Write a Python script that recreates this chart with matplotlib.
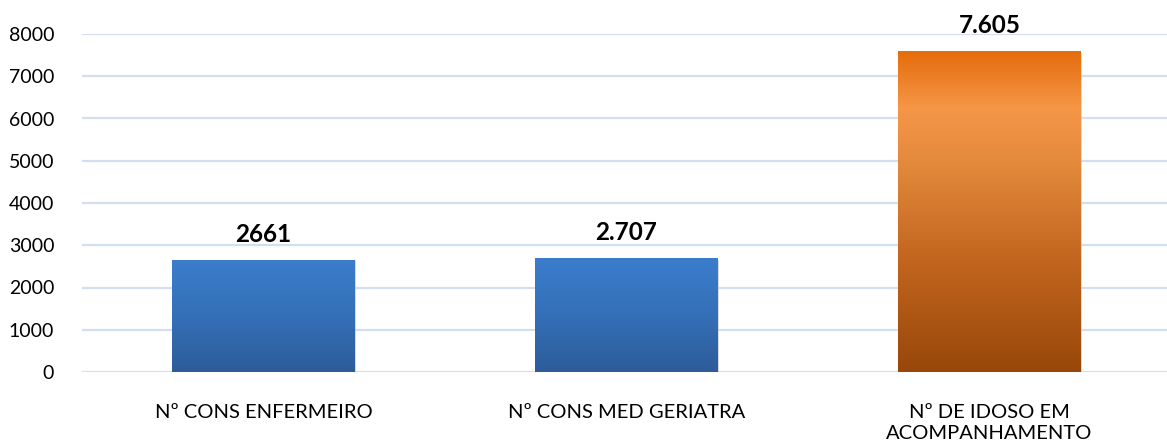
import numpy as np
import matplotlib
matplotlib.use("Agg")
import matplotlib.pyplot as plt
from matplotlib.colors import LinearSegmentedColormap

categories = ["Nº CONS ENFERMEIRO", "Nº CONS MED GERIATRA", "Nº DE IDOSO EM\nACOMPANHAMENTO"]
values = [2661, 2707, 7605]
value_labels = ["2661", "2.707", "7.605"]
yticks = [0, 1000, 2000, 3000, 4000, 5000, 6000, 7000, 8000]

plt.rcParams['font.family'] = ['Lato', 'DejaVu Sans']

fig = plt.figure(figsize=(11.67, 4.42), dpi=100)
W, H = 1167, 442
left_px, right_px = 82, 1171
bottom_px, top_px = 70, 408
ax = fig.add_axes([left_px / W, bottom_px / H, (right_px - left_px) / W, (top_px - bottom_px) / H])
ax.set_xlim(-0.5, 2.5)
ax.set_ylim(0, 8000)

for t in yticks:
    ax.axhline(t, color="#D3DFF1", lw=1.6, zorder=0)

blue = LinearSegmentedColormap.from_list("b", ["#2D5C99", "#3470B8", "#3B7DCC"])
orange = LinearSegmentedColormap.from_list(
    "o", [(0.0, "#98470A"), (0.35, "#C2661F"), (0.65, "#E38A3C"), (0.82, "#F69647"), (1.0, "#E46C0B")])
cmaps = [blue, blue, orange]

x = np.arange(len(categories))
bw = 0.504
bars = ax.bar(x, values, width=bw, color="none", zorder=2)
grad = np.linspace(0, 1, 256).reshape(-1, 1)
for i, b in enumerate(bars):
    x0, y0 = b.get_x(), b.get_y()
    w, h = b.get_width(), b.get_height()
    # subtle shadow
    ax.bar(x0 + w / 2 + 0.004, h, width=w, bottom=-45, color="#BBBBBB", alpha=0.5, zorder=1.5)
    im = ax.imshow(grad, cmap=cmaps[i], origin="lower", aspect="auto",
                   extent=(x0, x0 + w, y0, y0 + h), zorder=2, interpolation="bicubic")
    im.set_clip_path(b)
    ax.text(x[i], values[i] + 330, value_labels[i], ha="center", va="bottom",
            fontsize=17.5, fontweight="bold", color="#000000", clip_on=False)

ax.set_xticks(x)
ax.set_xticklabels(categories, fontsize=14.5, color="#000000", linespacing=1.3)
ax.set_yticks(yticks)
ax.set_yticklabels([str(t) for t in yticks], fontsize=14, color="#000000")
ax.tick_params(axis="both", length=0)
ax.tick_params(axis="x", pad=23)
ax.tick_params(axis="y", pad=20)
for s in ax.spines.values():
    s.set_visible(False)
ax.set_xlim(-0.5, 2.5)

fig.savefig("out.png", dpi=100)
